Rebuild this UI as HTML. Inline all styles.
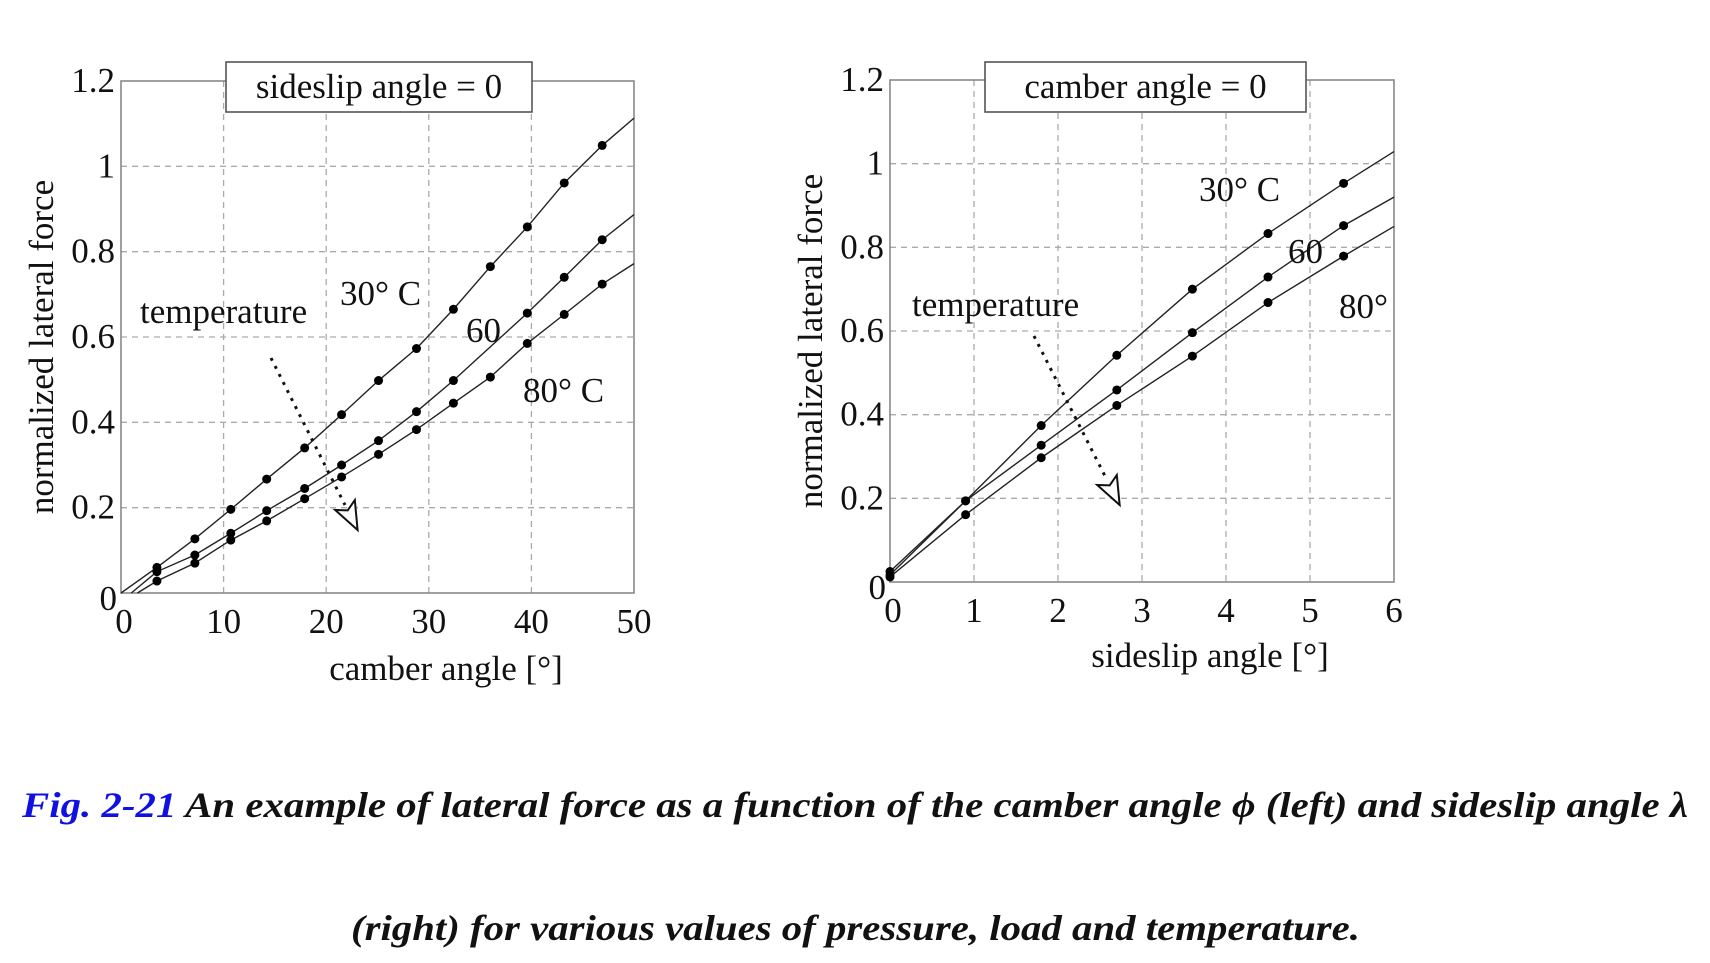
<!DOCTYPE html>
<html><head><meta charset="utf-8"><style>
html,body{margin:0;padding:0;background:#fff;width:1710px;height:963px;overflow:hidden}
svg{display:block}
text{font-family:"Liberation Serif",serif;fill:#111}
</style></head><body>
<svg id="fig" width="1710" height="963" viewBox="0 0 1710 963">
<g id="left"></g>
<g id="right"></g>
<text x="22" y="817" font-size="36" font-weight="bold" font-style="italic" textLength="1666" lengthAdjust="spacingAndGlyphs"><tspan fill="#1010e0" style="fill:#1010e0">Fig. 2-21</tspan> An example of lateral force as a function of the camber angle ϕ (left) and sideslip angle λ</text>
<text x="351" y="940" font-size="36" font-weight="bold" font-style="italic" textLength="1009" lengthAdjust="spacingAndGlyphs">(right) for various values of pressure, load and temperature.</text>
</svg>
<script>
// Left chart data (camber angle)
const camberX = [3.5,7.2,10.7,14.2,17.9,21.5,25.1,28.8,32.4,36,39.6,43.2,46.9];
const left30 = [0.06,0.127,0.196,0.267,0.34,0.418,0.498,0.573,0.665,0.765,0.858,0.961,1.049];
const left60 = [0.05,0.089,0.14,0.193,0.245,0.30,0.357,0.425,0.498,null,0.656,0.74,0.828];
const left80 = [0.028,0.07,0.124,0.169,0.221,0.272,0.325,0.383,0.445,0.506,0.585,0.653,0.724];
const leftStart = [[0,0],[1,0],[1.6,0]];
const leftEnd = [1.113,0.887,0.772];
const leftXTicks = [0,10,20,30,40,50];
const yTicks = [0,0.2,0.4,0.6,0.8,1,1.2];
const yTickLabels = ["0","0.2","0.4","0.6","0.8","1","1.2"];
// Right chart data (sideslip angle)
const slipX = [0,0.9,1.8,2.7,3.6,4.5,5.4];
const right30 = [0.025,0.194,0.374,0.542,0.70,0.833,0.953];
const right60 = [0.017,0.194,0.327,0.459,0.596,0.729,0.852];
const right80 = [0.012,0.161,0.297,0.422,0.54,0.668,0.779];
const rightEnd = [1.029,0.92,0.85];
const rightXTicks = [0,1,2,3,4,5,6];

const NS="http://www.w3.org/2000/svg";
const FS=35;
function mk(parent,tag,attrs,txt){const e=document.createElementNS(NS,tag);for(const k in attrs)e.setAttribute(k,attrs[k]);if(txt!==undefined)e.textContent=txt;parent.appendChild(e);return e;}

function chart(g,cfg){
  const sx=v=>cfg.x0+(v-cfg.xmin)/(cfg.xmax-cfg.xmin)*(cfg.x1-cfg.x0);
  const sy=v=>cfg.y0-(v/1.2)*(cfg.y0-cfg.y1);
  cfg.xticks.forEach((t,i)=>{
    if(i>0&&i<cfg.xticks.length-1){
      const l=mk(g,'line',{x1:sx(t),x2:sx(t),y1:cfg.y1,y2:cfg.y0,stroke:'#aaa','stroke-width':1.3,'stroke-dasharray':'6 5'});
      
      
    }
    const tx=mk(g,'text',{x:sx(t)+(i===0?3:0),y:cfg.y0+40,'font-size':FS,'text-anchor':'middle'},String(t));
    
    
  });
  yTicks.forEach((t,i)=>{
    if(i>0&&i<yTicks.length-1){
      const l=mk(g,'line',{x1:cfg.x0,x2:cfg.x1,y1:sy(t),y2:sy(t),stroke:'#aaa','stroke-width':1.3,'stroke-dasharray':'6 5'});
      
      
    }
    const tx=mk(g,'text',{x:cfg.x0-(i===0?4:6),y:sy(t)+(i===0?17:11),'font-size':FS,'text-anchor':'end'},yTickLabels[i]);
    
    
  });
  const fr=mk(g,'rect',{x:cfg.x0,y:cfg.y1,width:cfg.x1-cfg.x0,height:cfg.y0-cfg.y1,fill:'none',stroke:'#888','stroke-width':1.6});
  
  
  cfg.series.forEach((s,si)=>{
    let pts=[cfg.starts[si]];
    s.forEach((v,i)=>{if(v!==null)pts.push([cfg.xs[i],v]);});
    pts.push([cfg.xmax,cfg.ends[si]]);
    const p=mk(g,'polyline',{points:pts.map(q=>sx(q[0])+','+sy(q[1])).join(' '),fill:'none',stroke:'#222','stroke-width':1.4});
    
    
    s.forEach((v,i)=>{if(v===null)return;
      const c=mk(g,'circle',{cx:sx(cfg.xs[i]),cy:sy(v),r:4.5,fill:'#000'});
      
      
    });
  });
  const b=mk(g,'rect',{x:cfg.box[0],y:cfg.box[1],width:cfg.box[2],height:cfg.box[3],fill:'#fff',stroke:'#555','stroke-width':1.6});
  
  
  const bt=mk(g,'text',{x:cfg.box[0]+cfg.box[2]/2,y:cfg.box[1]+36,'font-size':FS,'text-anchor':'middle'},cfg.boxText);
  
  
  const yt=mk(g,'text',{x:0,y:0,'font-size':FS,'text-anchor':'middle',transform:`translate(${cfg.ytX},${(cfg.y0+cfg.y1)/2+10}) rotate(-90)`},'normalized lateral force');
  
  
  const xt=mk(g,'text',{x:cfg.xtX,y:cfg.xtY,'font-size':FS,'text-anchor':'middle'},cfg.xTitle);
  
  
  cfg.labels.forEach(L=>{
    const t=mk(g,'text',{x:L[0],y:L[1],'font-size':FS},L[2]);
    
    
  });
  const a=cfg.arrow;
  const al=mk(g,'line',{x1:a[0],y1:a[1],x2:a[2],y2:a[3],stroke:'#111','stroke-width':3,'stroke-dasharray':'3 6'});
  
  
  const ang=Math.atan2(a[3]-a[1],a[2]-a[0]);
  const tipX=a[2]+Math.cos(ang)*28,tipY=a[3]+Math.sin(ang)*28;
  const w=11,bx=a[2],by=a[3];
  const ah=mk(g,'polygon',{points:`${tipX},${tipY} ${bx-Math.sin(ang)*w},${by+Math.cos(ang)*w} ${bx+Math.cos(ang)*6},${by+Math.sin(ang)*6} ${bx+Math.sin(ang)*w},${by-Math.cos(ang)*w}`,fill:'#fff',stroke:'#111','stroke-width':2});
  
  
}

chart(document.getElementById('left'),{x0:121,x1:634,y0:593,y1:81,xmin:0,xmax:50,xticks:leftXTicks,xs:camberX,
  series:[left30,left60,left80],names:['30C','60C','80C'],starts:leftStart,ends:leftEnd,
  box:[226,62,306,50],boxText:'sideslip angle = 0',ytX:53,xtX:446,xtY:680,xTitle:'camber angle [°]',
  labels:[[140,323,'temperature','temperature-label'],[340,305,'30° C','label-30c'],[466,342,'60','label-60'],[523,402,'80° C','label-80c']],
  arrow:[271,358,345,505]});
chart(document.getElementById('right'),{x0:890,x1:1394,y0:582,y1:80,xmin:0,xmax:6,xticks:rightXTicks,xs:slipX,
  series:[right30,right60,right80],names:['30C','60C','80C'],starts:[[0,0.025],[0,0.017],[0,0.005]],ends:rightEnd,
  box:[985,62,321,50],boxText:'camber angle = 0',ytX:822,xtX:1210,xtY:667,xTitle:'sideslip angle [°]',
  labels:[[912,316,'temperature','temperature-label'],[1199,201,'30° C','label-30c'],[1288,263,'60','label-60'],[1339,318,'80°','label-80']],
  arrow:[1034,336,1107,480]});
</script>
</body></html>
